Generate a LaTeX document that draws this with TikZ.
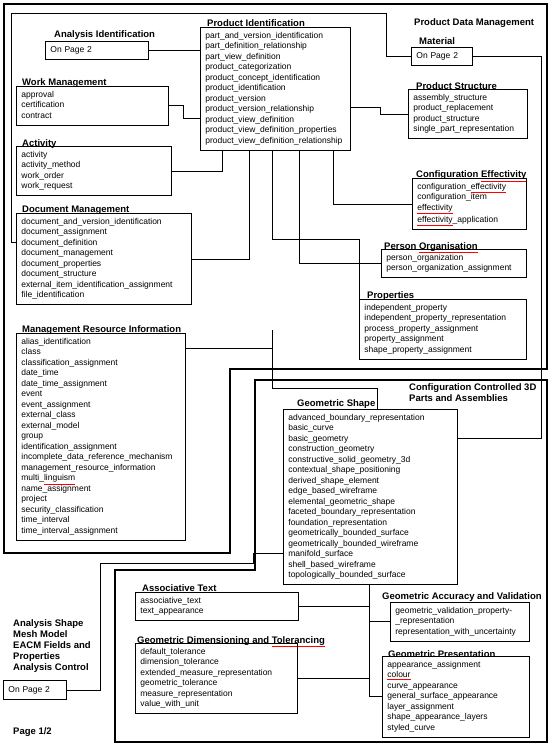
\documentclass[tikz,border=0pt]{standalone}
\usepackage{fontspec}
\setmainfont{Liberation Sans}
\usetikzlibrary{positioning}
\newcommand{\itemfont}{\fontsize{8.5}{10.5}\selectfont}
\newcommand{\titlefont}{\bfseries\fontsize{9.5}{11}\selectfont}
\newcommand{\spellmark}[1]{\textcolor{red}{\underline{\textcolor{black}{#1}}}}

\begin{document}
\begin{tikzpicture}[
    x=1pt, y=-1pt,
    listbox/.style={draw, line width=0.8pt, anchor=north west, align=left, inner xsep=5pt, inner ysep=3.5pt, font=\itemfont, text width=#1, execute at begin node=\strut, execute at end node=\strut},
    grouptitle/.style={anchor=base west, inner sep=0pt, font=\titlefont},
    groupframe/.style={line width=2.6pt, line join=miter},
    connector/.style={line width=0.8pt}
]
    \useasboundingbox (0,0) rectangle (554,748);

    % Frames
    \draw[groupframe] (4,4) -- (547,4) -- (547,369) -- (230,369) -- (230,553) -- (4,553) -- cycle;
    \draw[groupframe] (255,380) -- (547,380) -- (547,742) -- (115,742) -- (115,570) -- (255,570) -- cycle;

    % Product Data Management
    \node[grouptitle] (pdmtitle) at (414,25.5) {Product Data Management};

    \node[grouptitle] (aidtitle) at (54,37.5) {Analysis Identification};
    \node[listbox=93pt] (aid) at (45,41) {On Page 2};

    \node[grouptitle] (wmtitle) at (22,85) {Work Management};
    \node[listbox=142pt] (wm) at (16,86) {approval\\certification\\contract};

    \node[grouptitle] (acttitle) at (22,146) {Activity};
    \node[listbox=145pt] (act) at (16,146) {activity\\activity\_method\\work\_order\\work\_request};

    \node[grouptitle] (dmtitle) at (22,212.5) {Document Management};
    \node[listbox=165pt] (dm) at (16,213) {document\_and\_version\_identification\\document\_assignment\\document\_definition\\document\_management\\document\_properties\\document\_structure\\external\_item\_identification\_assignment\\file\_identification};

    \node[grouptitle] (mrititle) at (22,332) {Management Resource Information};
    \node[listbox=159pt] (mri) at (16,333) {alias\_identification\\class\\classification\_assignment\\date\_time\\date\_time\_assignment\\event\\event\_assignment\\external\_class\\external\_model\\group\\identification\_assignment\\incomplete\_data\_reference\_mechanism\\management\_resource\_information\\multi\_\spellmark{linguism}\\name\_assignment\\project\\security\_classification\\time\_interval\\time\_interval\_assignment};

    \node[grouptitle] (pidtitle) at (207,26.5) {Product Identification};
    \node[listbox=140pt] (pid) at (200,27) {part\_and\_version\_identification\\part\_definition\_relationship\\part\_view\_definition\\product\_categorization\\product\_concept\_identification\\product\_identification\\product\_version\\product\_version\_relationship\\product\_view\_definition\\product\_view\_definition\_properties\\product\_view\_definition\_relationship};

    \node[grouptitle] (mattitle) at (419,44.5) {Material};
    \node[listbox=51pt] (mat) at (411,47) {On Page 2};

    \node[grouptitle] (pstitle) at (416,89) {Product Structure};
    \node[listbox=109pt] (ps) at (408,89) {assembly\_structure\\product\_replacement\\product\_structure\\single\_part\_representation};

    \node[grouptitle] (cetitle) at (416,177.5) {Configuration \spellmark{Effectivity}};
    \node[listbox=104pt] (ce) at (412,178) {configuration\_\spellmark{effectivity}\\configuration\_item\\\spellmark{effectivity}\\\spellmark{effectivity}\_application};

    \node[grouptitle] (potitle) at (384,249) {Person \spellmark{Organisation}};
    \node[listbox=135pt] (po) at (381,249) {person\_organization\\person\_organization\_assignment};

    \node[grouptitle] (proptitle) at (367,298.5) {Properties};
    \node[listbox=157pt] (prop) at (359,299) {independent\_property\\independent\_property\_representation\\process\_property\_assignment\\property\_assignment\\shape\_property\_assignment};

    % Configuration Controlled 3D Parts and Assemblies
    \node[grouptitle, anchor=north west, align=left] (cctitle) at (409,383.5) {Configuration Controlled 3D\\Parts and Assemblies};

    \node[grouptitle] (gstitle) at (297,406.5) {Geometric Shape};
    \node[listbox=164pt] (gs) at (283,409) {advanced\_boundary\_representation\\basic\_curve\\basic\_geometry\\construction\_geometry\\constructive\_solid\_geometry\_3d\\contextual\_shape\_positioning\\derived\_shape\_element\\edge\_based\_wireframe\\elemental\_geometric\_shape\\faceted\_boundary\_representation\\foundation\_representation\\geometrically\_bounded\_surface\\geometrically\_bounded\_wireframe\\manifold\_surface\\shell\_based\_wireframe\\topologically\_bounded\_surface};

    \node[grouptitle] (attitle) at (142,591.5) {Associative Text};
    \node[listbox=153pt] (at) at (135,592) {associative\_text\\text\_appearance};

    \node[grouptitle] (gavtitle) at (382,599.5) {Geometric Accuracy and Validation};
    \node[listbox=129pt] (gav) at (390,602) {geometric\_validation\_property-\\\_representation\\representation\_with\_uncertainty};

    \node[grouptitle] (gdttitle) at (137,643) {Geometric Dimensioning and \spellmark{Tolerancing}};
    \node[listbox=152pt] (gdt) at (135,643) {default\_tolerance\\dimension\_tolerance\\extended\_measure\_representation\\geometric\_tolerance\\measure\_representation\\value\_with\_unit};

    \node[grouptitle] (gptitle) at (388,657) {Geometric Presentation};
    \node[listbox=137pt] (gp) at (382,656) {appearance\_assignment\\\spellmark{colour}\\curve\_appearance\\general\_surface\_appearance\\layer\_assignment\\shape\_appearance\_layers\\styled\_curve};

    % Page 2 references
    \node[grouptitle, anchor=north west, align=left] (analysis) at (13,619.5) {Analysis Shape\\Mesh Model\\EACM Fields and\\Properties\\Analysis Control};
    \node[listbox=53pt, minimum height=19pt] (ap) at (3,680) {On Page 2};
    \node[grouptitle] (pagenum) at (13,734.5) {Page 1/2};

    % Connectors
    \draw[connector] (aid.east) -- (aid.east -| pid.west);
    \draw[connector] (wm.east) -- ++(15,0) |- (pid.west |- 0,118);
    \draw[connector] (act.east) -| (pid.south -| 222,0);
    \draw[connector] (dm.east) -| (pid.south -| 249,0);
    \draw[connector] (pid.south -| 272,0) |- (prop.north west |- 0,239) -- (prop.north west);
    \draw[connector] (pid.south -| 299,0) |- (po.west);
    \draw[connector] (pid.south -| 333,0) |- (ce.west);
    \draw[connector] (pid.east |- 0,107) -- (380,107) |- (ps.west);
    \draw[connector] (mat.west) -| (386,13) -| (11,242) -- (dm.west |- 0,242);
    \draw[connector] (mat.east) -| (541,438) -- (gs.east |- 0,438);
    \coordinate (mrijoin) at (272,348);
    \draw[connector] (mri.east |- mrijoin) -- (mrijoin);
    \draw[connector] (272,330) |- (377,388) -- (gs.north -| 377,0);
    \draw[connector] (ap.east) -| (100,563) -| (253,553) -- (gs.west |- 0,553);
    \draw[connector] (gs.south -| 369,0) |- (gp.west);
    \draw[connector] (at.east) -- (at.east -| 369,0);
    \draw[connector] (gav.west) -- (gav.west -| 369,0);
    \draw[connector] (gdt.east) -- (gdt.east -| 369,0);
\end{tikzpicture}
\end{document}
